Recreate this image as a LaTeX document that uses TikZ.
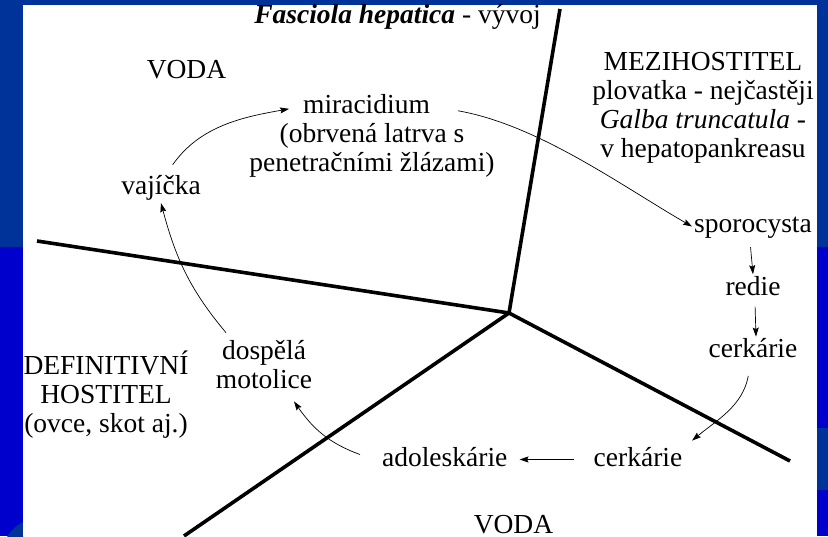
\documentclass[tikz,border=0pt]{standalone}
\usepackage{fontspec}
\setmainfont{Liberation Serif}
\usepackage{tikz}
\usetikzlibrary{arrows.meta, positioning}

\definecolor{slidenavy}{RGB}{0,51,153}
\definecolor{slideblue}{RGB}{0,0,204}

\begin{document}
\begin{tikzpicture}[
    x=1pt, y=1pt,
    node distance=33pt and 82pt,
    every node/.style={font=\fontsize{27.5}{29}\selectfont, inner sep=2pt},
    stage/.style={anchor=base, text height=19pt, text depth=6pt},
    region/.style={anchor=base, align=center},
    border/.style={line width=3.6pt},
    arrow/.style={-{Stealth[length=9pt,width=6pt,inset=1.5pt]}, line width=0.7pt}
]

% slide background
\fill[slidenavy] (0,0) rectangle (828,536);
\fill[slideblue] (0,0) rectangle (23,289);
\fill[slideblue] (817,0) rectangle (828,289);
\fill[slidenavy] (817,46) rectangle (828,108);
\begin{scope}
\clip (0,0) rectangle (23,20);
\fill[slidenavy] (40,-20) circle (38);
\end{scope}
\fill[white] (23,0) rectangle (817,531);
\useasboundingbox (0,0) rectangle (828,536);

% borders between the regions
\coordinate (hub) at (509,223);
\coordinate (topend) at (560,527);
\coordinate (leftend) at (37,295);
\coordinate (lowleft) at (184,0);
\coordinate (lowright) at (790,75);
\draw[border] (hub) -- (topend);
\draw[border] (hub) -- (leftend);
\draw[border] (hub) -- (lowleft);
\draw[border] (hub) -- (lowright);

% region labels (base = last line)
\node[region] (title) at (397.5,512) {\textbf{\textit{Fasciola hepatica}} - vývoj};
\node[region] (vodatop) at (186.5,457.5) {VODA};
\node[region] (mezi) at (703,378) {MEZIHOSTITEL\\ plovatka - nejčastěji\\ \textit{Galba truncatula} -\\ v hepatopankreasu};
\node[region] (defin) at (106,103) {DEFINITIVNÍ\\ HOSTITEL\\ (ovce, skot aj.)};
\node[region] (vodabot) at (513.5,3) {VODA};

% life cycle stages
\node[stage] (vaj) at (161,341) {vajíčka};
\node[stage] (mira) at (366.5,422.7) {miracidium};
\node[region] (mirainfo) at (372,364) {(obrvená latrva s\\ penetračními žlázami)};
\node[stage] (sporo) at (753,303) {sporocysta};
\node[stage, below=of sporo] (redie) {redie};
\node[stage, below=of redie] (cerkr) {cerkárie};
\node[stage] (cerkb) at (638,70) {cerkárie};
\node[stage, left=of cerkb] (adol) {adoleskárie};
\node[region] (dosp) at (264,147) {dospělá\\ motolice};

% arrows
\draw[arrow, shorten <=11pt, shorten >=12pt] (vaj.70) to[out=55, in=190] (mira.west);
\draw[arrow] ([xshift=26pt,yshift=-4pt]mira.east) to[out=-10, in=150, looseness=0.8] (sporo.west);
\draw[arrow, shorten <=6pt] ([xshift=-3pt]sporo.south) -- (redie.north);
\draw[arrow, shorten <=3pt] ([xshift=2pt]redie.south) -- ([xshift=3pt]cerkr.north);
\draw[arrow, shorten <=10pt, shorten >=10pt] ([xshift=-3pt]cerkr.south) to[out=-100, in=40] (cerkb.15);
\draw[arrow, shorten <=18pt, shorten >=10pt] (cerkb.west) -- (adol.east);
\draw[arrow] ([xshift=-20pt,yshift=5pt]adol.west) to[out=160, in=-55] ([xshift=30pt,yshift=-10pt]dosp.south);
\draw[arrow] ([xshift=-38pt,yshift=6pt]dosp.north) to[out=130, in=-75] (vaj.south);

\end{tikzpicture}
\end{document}
